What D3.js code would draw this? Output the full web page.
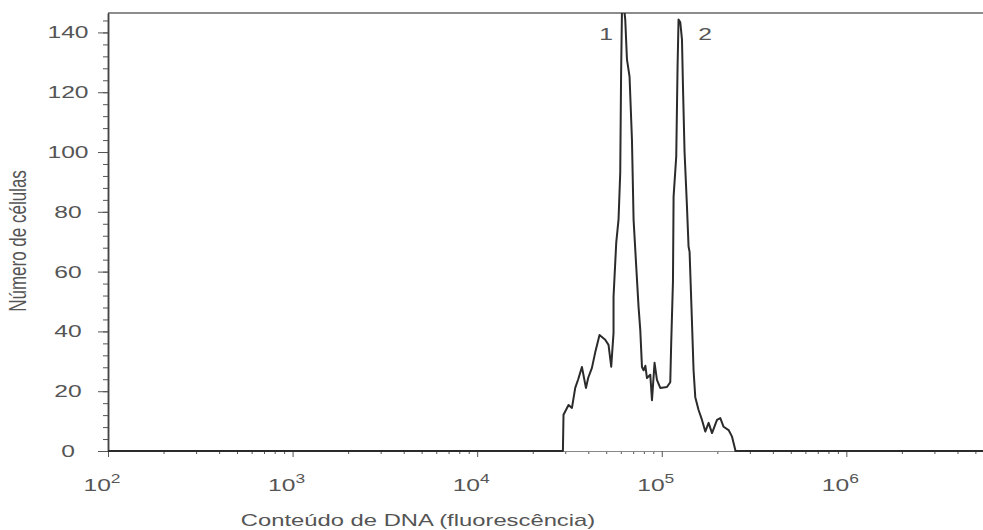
<!DOCTYPE html>
<html>
<head>
<meta charset="utf-8">
<script src="https://cdn.jsdelivr.net/npm/d3@7/dist/d3.min.js"></script>
<style>
  body { margin: 0; background: #fff; }
  svg { display: block; font-family: "Liberation Sans", Arial, sans-serif; }
  .lbl { fill: #555; }
</style>
</head>
<body>
<div id="chart"></div>
<script>
// histogram: fluorescence (DNA content) vs number of cells
const fluorescence = [
  100, 29140, 29360, 31260, 32620, 33980, 35270, 36940, 38840, 39960,
  41850, 43610, 46010, 49400, 51480, 53240, 54800, 54800, 56680, 58320,
  59580, 60200, 60850, 62090, 63420, 64780, 66920, 68960, 70360, 72750,
  74870, 76490, 78130, 79710, 81500, 83160, 86660, 88520, 91410, 94190,
  98150, 106700, 111200, 112500, 115000, 115900, 119800, 121800, 123300, 126000,
  128700, 130300, 132900, 136900, 139700, 141500, 145800, 148700, 151900, 158300,
  165200, 172100, 179400, 187200, 199200, 207600, 216300, 230200, 240300, 250300,
  250300, 5500000
];
const cellCount = [
  0, 0, 12.1, 15.4, 14.4, 21.1, 24, 28.1, 21.1, 24.5,
  27.8, 33, 38.8, 37.2, 35.5, 28.2, 39.5, 51.6, 69.7, 77.4,
  93.1, 125.2, 146.7, 150, 144.3, 131, 125.2, 104, 77.4, 61.6,
  48.2, 40.5, 28.1, 27, 28.5, 24.4, 25.5, 17, 29.5, 23.8,
  21.1, 21.4, 23, 36, 56.7, 85.1, 98.5, 128.6, 144.3, 143.4,
  137.6, 121.9, 100, 82, 68.4, 66.6, 43, 27, 18, 13.7,
  10.4, 6.5, 9.4, 6, 10.4, 11, 8.1, 7, 4.8, 0.3,
  0, 0
];
const yMajorTicks = [0, 20, 40, 60, 80, 100, 120, 140];
const xMajorTicks = [1e2, 1e3, 1e4, 1e5, 1e6];
const xExponents = ["2", "3", "4", "5", "6"];
const peakLabels = ["1", "2"];
const peakPositions = [50000, 172000];

const width = 983, height = 530;
const margin = { top: 13, right: 0, bottom: 79, left: 108 };
const stretch = 1.45;

const x = d3.scaleLog().domain([100, 5500000]).range([margin.left, width - margin.right]);
const y = d3.scaleLinear().domain([0, 146.5]).range([height - margin.bottom, margin.top]);

const svg = d3.select("#chart").append("svg")
  .attr("width", width)
  .attr("height", height);

svg.append("clipPath").attr("id", "plot-clip")
  .append("rect")
  .attr("x", margin.left).attr("y", margin.top)
  .attr("width", width - margin.left).attr("height", height - margin.bottom - margin.top + 2);

// top frame line
svg.append("line")
  .attr("x1", margin.left).attr("x2", width)
  .attr("y1", margin.top).attr("y2", margin.top)
  .attr("stroke", "#8c8c8c").attr("stroke-width", 2);

// x axis: minor and major ticks
const xMinor = [];
for (let d = 100; d < 5500000; d *= 10) {
  for (let k = 2; k <= 9; k++) if (d * k < 5500000) xMinor.push(d * k);
}
const xAxisG = svg.append("g").attr("transform", `translate(0,${y(0)})`);
xAxisG.append("g")
  .call(d3.axisBottom(x).tickValues(xMinor).tickSize(3).tickFormat("").tickSizeOuter(0));
xAxisG.append("g")
  .call(d3.axisBottom(x).tickValues(xMajorTicks).tickSize(6).tickFormat("").tickSizeOuter(0));
xAxisG.selectAll("path.domain").attr("stroke", "#888").attr("stroke-width", 1.2);
xAxisG.selectAll(".tick line").attr("stroke", "#555");

// y axis
const yAxisG = svg.append("g").attr("transform", `translate(${margin.left},0)`);
yAxisG.append("g")
  .call(d3.axisLeft(y).tickValues(d3.range(0, 146, 4)).tickSize(5).tickFormat("").tickSizeOuter(0));
yAxisG.append("g")
  .call(d3.axisLeft(y).tickValues(yMajorTicks).tickSize(10).tickFormat("").tickSizeOuter(0));
yAxisG.selectAll("path.domain").attr("stroke", "#444").attr("stroke-width", 1.5);
yAxisG.selectAll(".tick line").attr("stroke", "#555");

// y tick labels (text looks horizontally stretched in the original)
svg.append("g").selectAll("g")
  .data(yMajorTicks)
  .enter().append("g")
  .attr("transform", d => `translate(68,${y(d) + 6}) scale(${stretch},1)`)
  .append("text")
  .attr("class", "lbl")
  .attr("text-anchor", "middle")
  .attr("font-size", "17px")
  .text(d => d);

// x tick labels 10^n
const xl = svg.append("g").selectAll("g")
  .data(xMajorTicks)
  .enter().append("g")
  .attr("transform", d => `translate(${x(d) - 6},491) scale(${stretch},1)`)
  .append("text")
  .attr("class", "lbl")
  .attr("text-anchor", "middle")
  .attr("font-size", "17px");
xl.append("tspan").text("10");
xl.append("tspan").attr("dy", -8).attr("font-size", "12px").text((d, i) => xExponents[i]);

// histogram line
const line = d3.line()
  .x((d, i) => x(fluorescence[i]))
  .y((d, i) => y(cellCount[i]));
svg.append("path")
  .datum(cellCount)
  .attr("clip-path", "url(#plot-clip)")
  .attr("fill", "none")
  .attr("stroke", "#2b2b2b")
  .attr("stroke-width", 2)
  .attr("stroke-linejoin", "round")
  .attr("d", line);

// peak labels
svg.append("g").selectAll("g")
  .data(peakLabels)
  .enter().append("g")
  .attr("transform", (d, i) => `translate(${x(peakPositions[i])},40) scale(${stretch},1)`)
  .append("text")
  .attr("class", "lbl")
  .attr("fill", "#444")
  .attr("text-anchor", "middle")
  .attr("font-size", "17px")
  .text(d => d);

// axis titles
svg.append("g")
  .attr("transform", `translate(418,526) scale(1.4,1)`)
  .append("text")
  .attr("class", "lbl")
  .attr("text-anchor", "middle")
  .attr("font-size", "17px")
  .text("Conteúdo de DNA (fluorescência)");

svg.append("g")
  .attr("transform", `translate(26,241) scale(${stretch},1) rotate(-90)`)
  .append("text")
  .attr("class", "lbl")
  .attr("text-anchor", "middle")
  .attr("font-size", "17px")
  .text("Número de células");
</script>
</body>
</html>
